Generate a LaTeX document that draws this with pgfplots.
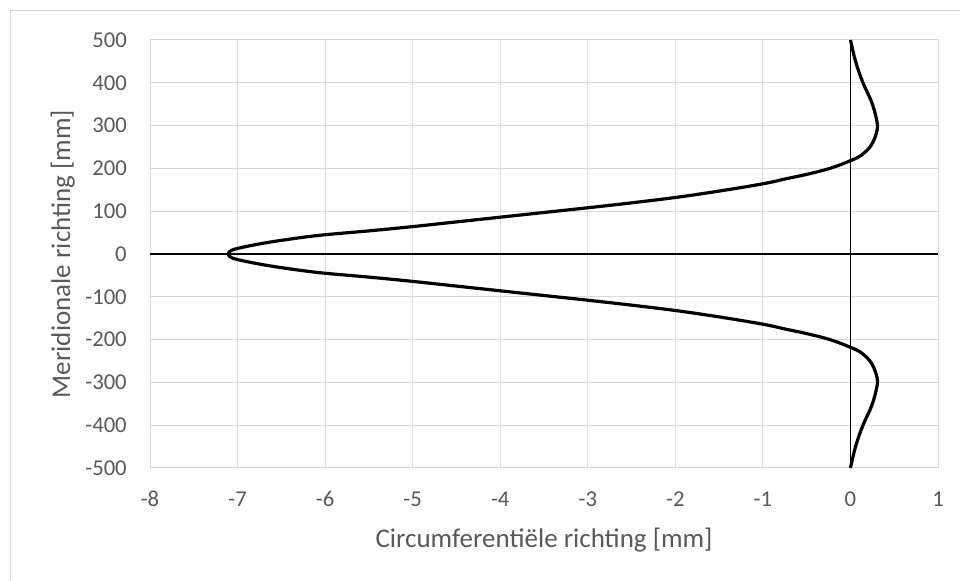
\documentclass[border=0pt]{standalone}
\usepackage{fontspec}
\setmainfont{Carlito}
\usepackage{pgfplots}
\pgfplotsset{compat=1.18}
\definecolor{gridgray}{HTML}{D9D9D9}
\definecolor{txtgray}{HTML}{595959}
\begin{document}
\begin{tikzpicture}
\useasboundingbox (0,0) rectangle (720pt,435.75pt);
\draw[gridgray, line width=0.75pt] (7.5pt,-5pt) -- (7.5pt,427.5pt) -- (725pt,427.5pt);
\begin{axis}[
  at={(112.5pt,84.75pt)}, anchor=south west,
  scale only axis,
  width=591pt, height=321pt,
  xmin=-8, xmax=1, ymin=-500, ymax=500,
  xtick={-8,-7,...,1}, ytick={-500,-400,...,500},
  grid=major,
  major grid style={gridgray, line width=0.75pt},
  axis line style={gridgray, line width=0.75pt},
  major tick length=0pt,
  /pgf/number format/assume math mode=true,
  tick label style={font=\fontsize{17}{19}\selectfont, text=txtgray},
  xticklabel style={anchor=base, inner sep=0pt, yshift=-29pt},
  yticklabel style={anchor=east, inner sep=0pt, xshift=-17.25pt},
  label style={font=\fontsize{20.25}{22}\selectfont, text=txtgray},
  xlabel={Circumferentiële richting [mm]},
  ylabel={Meridionale richting [mm]},
  xlabel style={at={(axis description cs:0.5,-0.1846)}, anchor=base, inner sep=0pt},
  ylabel style={at={(axis description cs:-0.1015,0.5)}, anchor=base, inner sep=0pt},
  clip=false,
]
\addplot[black, line width=1pt, forget plot] coordinates {(-8,0) (1,0)};
\addplot[black, line width=1pt, forget plot] coordinates {(0,-500) (0,500)};
\addplot[black, line width=2.4pt, smooth, tension=0.6] coordinates {
(0,500) (0.06,449) (0.143,400) (0.24,356) (0.295,317) (0.305,290) (0.24,255) (0.125,231) (0,218)
(-0.235,200) (-0.5,186) (-0.73,176) (-1,164) (-1.5,147) (-2,132) (-2.5,119.5) (-3,108) (-3.5,97)
(-4,86) (-4.5,75) (-5,64) (-5.5,54) (-6,45) (-6.31,37.4) (-6.69,25.7) (-7,13) (-7.09,6) (-7.11,0)
(-7.09,-6) (-7,-13) (-6.69,-25.7) (-6.31,-37.4) (-6,-45) (-5.5,-54) (-5,-64) (-4.5,-75) (-4,-86)
(-3.5,-97) (-3,-108) (-2.5,-119.5) (-2,-132) (-1.5,-147) (-1,-164) (-0.73,-176) (-0.5,-186)
(-0.235,-200) (0,-218) (0.125,-231) (0.24,-255) (0.305,-290) (0.295,-317) (0.24,-356) (0.143,-400)
(0.06,-449) (0,-500)
};
\end{axis}
\end{tikzpicture}
\end{document}
